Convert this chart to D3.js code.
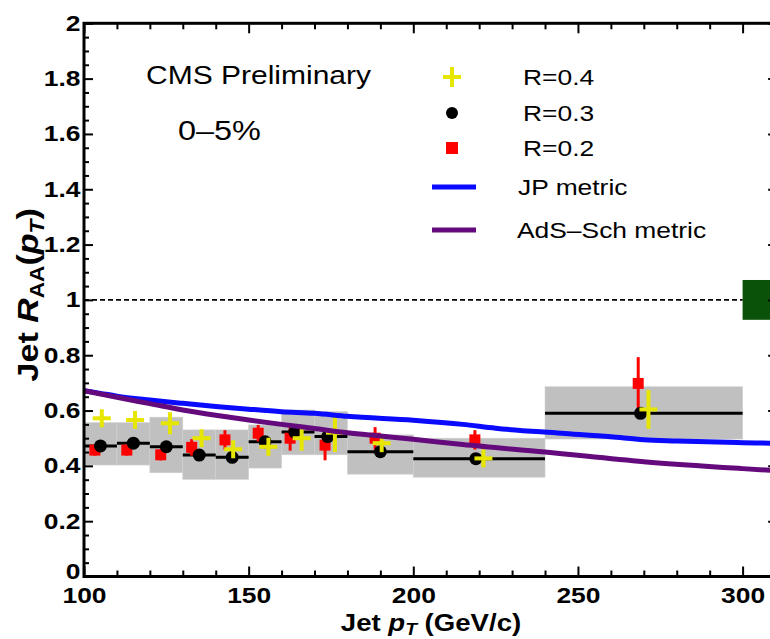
<!DOCTYPE html>
<html><head><meta charset="utf-8">
<script src="https://cdn.jsdelivr.net/npm/d3@7"></script>
<style>body{margin:0;background:#fff;overflow:hidden}text{font-family:"Liberation Sans",Arial,Helvetica,sans-serif}</style>
</head><body>
<svg id="chart" width="770" height="639"></svg>
<script>
// ---- data ----
const binLo = [100,110,120,130,140,150,160,170,180,200,240];
const binHi = [110,120,130,140,150,160,170,180,200,240,300];
const sysLo = [0.403,0.403,0.375,0.351,0.351,0.392,0.44,0.44,0.37,0.359,0.497];
const sysHi = [0.556,0.556,0.576,0.53,0.53,0.548,0.602,0.596,0.512,0.50,0.686];
const ptR3  = [105,115,125,135,145,155,164,174,190,219,269];
const raaR3 = [0.472,0.482,0.469,0.439,0.431,0.487,0.522,0.506,0.451,0.426,0.59];
const ptR2  = [103.3,113,123.3,132.7,142.8,152.9,162.6,173.2,188.4,218.7,268.3];
const raaR2 = [0.457,0.457,0.44,0.467,0.494,0.518,0.50,0.475,0.50,0.494,0.698];
const errR2 = [0.02,0.02,0.02,0.03,0.035,0.03,0.045,0.055,0.04,0.035,0.095];
const ptR4  = [105.4,115.5,126.1,135.7,145.3,156,166.1,176.2,190.4,221.3,271.4];
const raaR4 = [0.572,0.566,0.554,0.50,0.46,0.469,0.50,0.52,0.482,0.427,0.604];
const errR4 = [0.02,0.02,0.04,0.02,0.02,0.02,0.045,0.07,0.03,0.02,0.07];
const jpPt  = [100,105,110,120,130,140,150,160,170,180,200,215,225,245,260,270,280,300,311];
const jpRaa = [0.672,0.662,0.652,0.638,0.626,0.615,0.605,0.596,0.59,0.579,0.565,0.55,0.536,0.518,0.505,0.494,0.49,0.484,0.481];
const adsPt  = [100,110,120,130,140,150,160,170,180,190,200,215,240,270,300,311];
const adsRaa = [0.672,0.648,0.625,0.602,0.583,0.566,0.55,0.535,0.52,0.508,0.496,0.477,0.45,0.415,0.39,0.382];
const xMajor = [100,150,200,250,300];
const xMinor = [110,120,130,140,160,170,180,190,210,220,230,240,260,270,280,290,310];
const yMajor = [0,0.2,0.4,0.6,0.8,1,1.2,1.4,1.6,1.8,2];
const yMinor = d3.range(0,2.001,0.05).filter(v=>Math.abs(v*5-Math.round(v*5))>1e-6);
const normPt = 300, normLo = 0.928, normHi = 1.072;
const legendLabels = ["R=0.4","R=0.3","R=0.2","JP metric","AdS\u2013Sch metric"];
const xMax = 310.5;

// ---- scales ----
const svg = d3.select('#chart');
const x = d3.scaleLinear().domain([100,300]).range([84,742.6]);
const y = d3.scaleLinear().domain([0,2]).range([576.5,23.3]);
const X0 = x(100), X1 = x(xMax), Y0 = y(0), Y1 = y(2);
const SX = 1.2;
const col = {yellow:"#e6e600", red:"#ff0000", black:"#000", blue:"#0a0aff", purple:"#650a7d", gray:"#c0c0c0", green:"#0a520a"};

svg.append("clipPath").attr("id","clip").append("rect").attr("x",X0).attr("y",Y1).attr("width",X1-X0).attr("height",Y0-Y1);
const plot = svg.append("g").attr("clip-path","url(#clip)");

plot.append("rect").attr("x",x(normPt)).attr("width",x(xMax)-x(normPt)+10)
  .attr("y",y(normHi)).attr("height",y(normLo)-y(normHi)).attr("fill",col.green);
plot.append("line").attr("x1",X0).attr("x2",x(normPt)).attr("y1",y(1)).attr("y2",y(1))
  .attr("stroke","#000").attr("stroke-width",1.6).attr("stroke-dasharray","5,3");

plot.selectAll("rect.sys").data(binLo).join("rect").attr("class","sys")
  .attr("x",(d,i)=>x(binLo[i])).attr("width",(d,i)=>x(binHi[i])-x(binLo[i]))
  .attr("y",(d,i)=>y(sysHi[i])).attr("height",(d,i)=>y(sysLo[i])-y(sysHi[i]))
  .attr("fill",col.gray).attr("stroke","#d0d0d0").attr("stroke-width",0.6);
plot.selectAll("line.bin").data(binLo).join("line").attr("class","bin")
  .attr("x1",(d,i)=>x(binLo[i])).attr("x2",(d,i)=>x(binHi[i]))
  .attr("y1",(d,i)=>y(raaR3[i])).attr("y2",(d,i)=>y(raaR3[i]))
  .attr("stroke","#000").attr("stroke-width",3);

const gR2 = plot.append("g");
gR2.selectAll("line").data(ptR2).join("line")
  .attr("x1",d=>x(d)).attr("x2",d=>x(d))
  .attr("y1",(d,i)=>y(raaR2[i]+errR2[i])).attr("y2",(d,i)=>y(raaR2[i]-errR2[i]))
  .attr("stroke",col.red).attr("stroke-width",3);
gR2.selectAll("rect").data(ptR2).join("rect")
  .attr("x",d=>x(d)-5.5).attr("y",(d,i)=>y(raaR2[i])-5.5).attr("width",11).attr("height",11).attr("fill",col.red);
plot.append("g").selectAll("circle").data(ptR3).join("circle")
  .attr("cx",d=>x(d)).attr("cy",(d,i)=>y(raaR3[i])).attr("r",6.5).attr("fill","#000");
const gR4 = plot.append("g");
gR4.selectAll("line.v").data(ptR4).join("line").attr("class","v")
  .attr("x1",d=>x(d)).attr("x2",d=>x(d))
  .attr("y1",(d,i)=>Math.min(y(raaR4[i]+errR4[i]),y(raaR4[i])-9)).attr("y2",(d,i)=>Math.max(y(raaR4[i]-errR4[i]),y(raaR4[i])+9))
  .attr("stroke",col.yellow).attr("stroke-width",4);
gR4.selectAll("line.h").data(ptR4).join("line").attr("class","h")
  .attr("x1",d=>x(d)-9).attr("x2",d=>x(d)+9)
  .attr("y1",(d,i)=>y(raaR4[i])).attr("y2",(d,i)=>y(raaR4[i]))
  .attr("stroke",col.yellow).attr("stroke-width",4);

const line = d3.line().curve(d3.curveMonotoneX);
plot.append("path").attr("d",line(jpPt.map((p,i)=>[x(p),y(jpRaa[i])])))
  .attr("fill","none").attr("stroke",col.blue).attr("stroke-width",5);
plot.append("path").attr("d",line(adsPt.map((p,i)=>[x(p),y(adsRaa[i])])))
  .attr("fill","none").attr("stroke",col.purple).attr("stroke-width",5);

function styleAxis(g){ g.select(".domain").remove(); g.selectAll("line").attr("stroke","#000").attr("stroke-width",2); }
const fmt = d3.format("~g");
svg.append("g").attr("transform",`translate(0,${Y0})`)
  .call(d3.axisBottom(x).tickValues(xMajor).tickSize(-10).tickPadding(11).tickFormat(fmt)).call(styleAxis)
  .call(g=>g.selectAll("text").attr("fill","#000").attr("font-size",22).attr("font-weight","bold")
        .attr("font-family","Liberation Sans, Arial, sans-serif").attr("transform",`scale(${SX},1)`));
svg.append("g").attr("transform",`translate(0,${Y0})`)
  .call(d3.axisBottom(x).tickValues(xMinor).tickSize(-6).tickFormat("")).call(styleAxis);
svg.append("g").attr("transform",`translate(0,${Y1})`)
  .call(d3.axisTop(x).tickValues(xMajor).tickSize(-10).tickFormat("")).call(styleAxis);
svg.append("g").attr("transform",`translate(0,${Y1})`)
  .call(d3.axisTop(x).tickValues(xMinor).tickSize(-6).tickFormat("")).call(styleAxis);
svg.append("g").attr("transform",`translate(${X0},0)`)
  .call(d3.axisLeft(y).tickValues(yMajor).tickSize(-9).tickPadding(3).tickFormat(fmt)).call(styleAxis)
  .call(g=>g.selectAll("text").attr("fill","#000").attr("font-size",22).attr("font-weight","bold")
        .attr("font-family","Liberation Sans, Arial, sans-serif").attr("transform",`scale(${SX},1)`)
        .attr("dy",d=>d===0?"0.1em":"0.32em"));
svg.append("g").attr("transform",`translate(${X0},0)`)
  .call(d3.axisLeft(y).tickValues(yMinor).tickSize(-5).tickFormat("")).call(styleAxis);
svg.append("g").attr("transform",`translate(${X1},0)`)
  .call(d3.axisRight(y).tickValues(yMajor).tickSize(-9).tickFormat("")).call(styleAxis);
svg.append("g").attr("transform",`translate(${X1},0)`)
  .call(d3.axisRight(y).tickValues(yMinor).tickSize(-5).tickFormat("")).call(styleAxis);
svg.append("rect").attr("x",X0).attr("y",Y1).attr("width",X1-X0).attr("height",Y0-Y1)
  .attr("fill","none").attr("stroke","#000").attr("stroke-width",3);

function txt(xp,yp,size,opts={}){
  const t = svg.append("text").attr("transform",`translate(${xp},${yp}) scale(${SX},1)`)
    .attr("font-size",size).attr("fill","#000");
  if(opts.bold) t.attr("font-weight","bold");
  if(opts.anchor) t.attr("text-anchor",opts.anchor);
  return t;
}
const xt = txt(431,631,23,{bold:true,anchor:"middle"});
xt.append("tspan").text("Jet ");
xt.append("tspan").attr("font-style","italic").text("p");
xt.append("tspan").attr("font-style","italic").attr("font-size",16).attr("dy",4).text("T");
xt.append("tspan").attr("dy",-4).text(" (GeV/c)");
const yt = svg.append("text").attr("transform",`translate(38,${y(1.04)+6}) rotate(-90) scale(1.26,1.1)`)
  .attr("font-size",27).attr("font-weight","bold").attr("text-anchor","middle").attr("fill","#000");
yt.append("tspan").text("Jet ");
yt.append("tspan").attr("font-style","italic").text("R");
yt.append("tspan").attr("font-size",18).attr("dy",5).text("AA");
yt.append("tspan").attr("dy",-5).text("(");
yt.append("tspan").attr("font-style","italic").text("p");
yt.append("tspan").attr("font-style","italic").attr("font-size",18).attr("dy",5).text("T");
yt.append("tspan").attr("dy",-5).text(")");

txt(146,84,25).text("CMS Preliminary");
txt(178,140,27).text("0\u20135%");

const lgx = 452, lgy = [77,113,148,187,230];
svg.append("line").attr("x1",lgx-9).attr("x2",lgx+9).attr("y1",lgy[0]).attr("y2",lgy[0]).attr("stroke",col.yellow).attr("stroke-width",4);
svg.append("line").attr("x1",lgx).attr("x2",lgx).attr("y1",lgy[0]-10).attr("y2",lgy[0]+10).attr("stroke",col.yellow).attr("stroke-width",4);
svg.append("circle").attr("cx",lgx).attr("cy",lgy[1]).attr("r",6).attr("fill","#000");
svg.append("rect").attr("x",lgx-6).attr("y",lgy[2]-6).attr("width",12).attr("height",12).attr("fill",col.red);
svg.append("line").attr("x1",432).attr("x2",476).attr("y1",lgy[3]).attr("y2",lgy[3]).attr("stroke",col.blue).attr("stroke-width",5);
svg.append("line").attr("x1",432).attr("x2",476).attr("y1",lgy[4]).attr("y2",lgy[4]).attr("stroke",col.purple).attr("stroke-width",5);
const lgtx = [523,523,523,518,517];
legendLabels.forEach((s,i)=>txt(lgtx[i],lgy[i]+8,22).text(s));
</script>
</body></html>
